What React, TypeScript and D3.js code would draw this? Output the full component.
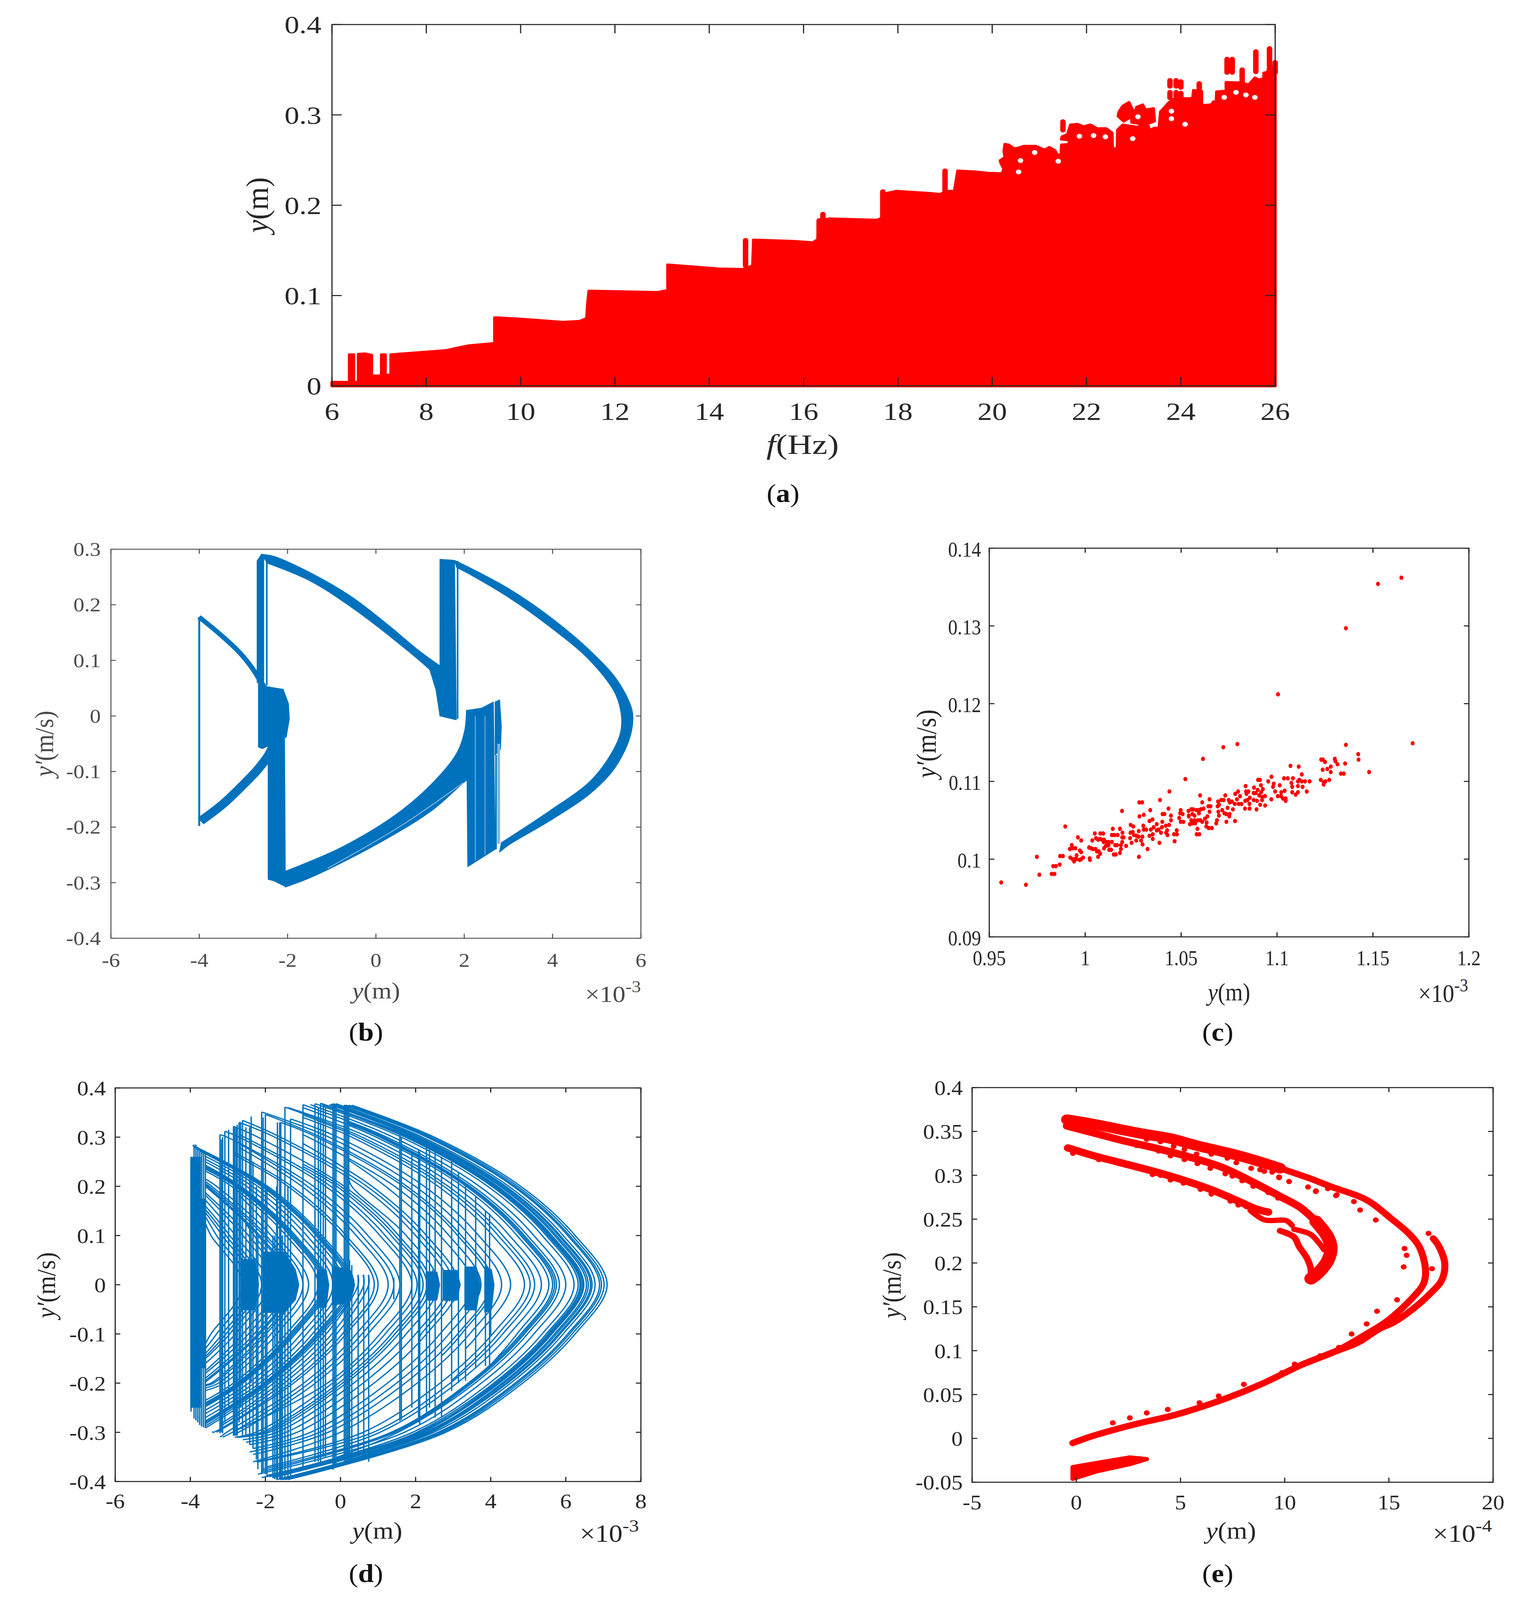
import * as d3 from "d3";

type Pt = [number, number];
type Arc = [Pt, (number | null)[], Pt];
type Lin = d3.ScaleLinear<number, number>;

const RED = "#ff0000";
const BLUE = "#0072bd";
const INK = "#262626";
const SERIF = "'Liberation Serif', serif";
const n = null;

// ---- panel (a): outer edge of the bifurcation cloud, f in Hz, y in m
const A_XTICKS = [6, 8, 10, 12, 14, 16, 18, 20, 22, 24, 26];
const A_YTICKS = [0, 0.1, 0.2, 0.3, 0.4];
const A_EDGE: Pt[] = [
  [6, 0.004], [6.37, 0.004], [6.37, 0.0345], [6.46, 0.0345], [6.46, 0.004], [6.56, 0.004], [6.56, 0.035], [6.7, 0.0355],
  [6.84, 0.034], [6.84, 0.011], [7.05, 0.011], [7.05, 0.0345], [7.13, 0.0345], [7.13, 0.012], [7.25, 0.012], [7.25, 0.0345],
  [8.4, 0.039], [8.9, 0.0445], [9.45, 0.047], [9.45, 0.0755], [10, 0.074], [10.9, 0.0705], [11.25, 0.0715], [11.4, 0.0745],
  [11.42, 0.09], [11.45, 0.105], [12.9, 0.1035], [13.12, 0.1055], [13.12, 0.134], [14.2, 0.1295], [14.72, 0.129], [14.92, 0.133],
  [14.94, 0.1615], [15.8, 0.16], [16.2, 0.1585], [16.3, 0.162], [16.33, 0.182], [16.55, 0.185], [17.55, 0.1835], [17.68, 0.186],
  [17.7, 0.2125], [17.97, 0.2155], [18.72, 0.213], [18.9, 0.212], [19, 0.215], [19.2, 0.216], [19.27, 0.238],
  [19.66, 0.2369], [19.91, 0.2355], [20.21, 0.2349], [20.25, 0.2404], [20.19, 0.2459], [20.17, 0.2494], [20.27, 0.2529], [20.25, 0.2598],
  [20.27, 0.2674], [20.35, 0.2667], [20.46, 0.2626], [20.56, 0.2633], [20.67, 0.2653], [20.92, 0.2653], [21.04, 0.2626], [21.12, 0.2612],
  [21.21, 0.264], [21.33, 0.2605], [21.38, 0.2556], [21.46, 0.2563], [21.47, 0.2667], [21.63, 0.2674], [21.63, 0.2723], [21.47, 0.273],
  [21.48, 0.2757], [21.6, 0.2785], [21.66, 0.2889], [21.81, 0.2896], [21.94, 0.2868], [22.08, 0.2889], [22.23, 0.2847], [22.42, 0.2847],
  [22.54, 0.2799], [22.55, 0.2626], [22.65, 0.2626], [22.66, 0.2833], [22.77, 0.2889], [22.94, 0.2875], [23.13, 0.2861], [23.13, 0.2903],
  [22.96, 0.2917], [22.96, 0.2986], [22.79, 0.293], [22.67, 0.2986], [22.69, 0.3034], [22.77, 0.3097], [22.9, 0.3138], [22.96, 0.3069],
  [23.04, 0.3014], [23.06, 0.3083], [23.19, 0.3111], [23.25, 0.3055], [23.42, 0.3069], [23.44, 0.293], [23.29, 0.2903], [23.34, 0.2827],
  [23.44, 0.2854], [23.54, 0.2854], [23.57, 0.3034], [23.67, 0.309], [23.75, 0.3138], [23.88, 0.318], [24.25, 0.318], [24.27, 0.327],
  [24.44, 0.3263], [24.44, 0.3104], [24.65, 0.3111], [24.69, 0.3145], [24.75, 0.3152], [24.76, 0.3256], [24.96, 0.3263], [24.96, 0.336],
  [25.3, 0.3353], [25.44, 0.3332], [25.57, 0.3409], [25.65, 0.3388], [25.76, 0.3402], [25.76, 0.3464], [25.84, 0.3471], [25.86, 0.3526],
  [26, 0.354], [26, 0],
];
// columns of points standing clear of the cloud: f, low y, high y
const A_STEMS: [number, number, number][] = [
  [14.77, 0.133, 0.161], [16.33, 0.165, 0.183], [16.41, 0.18, 0.19], [17.68, 0.183, 0.215], [19, 0.212, 0.238],
  [21.5, 0.2833, 0.2924], [23.77, 0.3318, 0.3381], [23.9, 0.3318, 0.3381], [24, 0.3305, 0.3367], [23.77, 0.319, 0.3249],
  [23.9, 0.319, 0.3249], [24, 0.318, 0.324], [24.39, 0.3291, 0.3346], [24.98, 0.3471, 0.3616], [25.09, 0.3471, 0.3616],
  [25.3, 0.3332, 0.3499], [25.59, 0.3478, 0.37], [25.88, 0.354, 0.3734], [26, 0.347, 0.358],
];
// pockets left empty inside the cloud
const A_GAPS: Pt[] = [
  [20.56, 0.2369], [20.6, 0.2494], [20.9, 0.2584], [21.4, 0.2487], [21.85, 0.2764], [22.15, 0.2771], [22.4, 0.2757], [22.98, 0.2737],
  [23.09, 0.2979], [23.8, 0.3041], [23.8, 0.2958], [24.09, 0.2896], [24.92, 0.3194], [25.17, 0.3249], [25.38, 0.3221], [25.57, 0.3194],
];

// ---- panel (b): phase portrait, x in 1e-3 m, y in m/s
const B_XTICKS = [-6, -4, -2, 0, 2, 4, 6];
const B_YTICKS = [-0.4, -0.3, -0.2, -0.1, 0, 0.1, 0.2, 0.3];
// curved sheets: one edge out, the other edge back
const B_BANDS: [Pt[], Pt[]][] = [
  [
    [[-2.59, 0.291], [-2.3, 0.287], [-1.49, 0.258], [-0.58, 0.216], [0.32, 0.161], [0.95, 0.119], [1.47, 0.089]],
    [[1.47, 0.059], [1.22, 0.083], [0.32, 0.143], [-0.58, 0.197], [-1.49, 0.243], [-2.46, 0.275]],
  ],
  [
    [[1.78, 0.28], [2.12, 0.267], [3.03, 0.228], [3.93, 0.179], [4.83, 0.119], [5.46, 0.065], [5.78, 0.016], [5.82, -0.005], [5.73, -0.044], [5.37, -0.098], [4.83, -0.141], [3.93, -0.189], [3.03, -0.231], [2.8, -0.245]],
    [[2.84, -0.228], [3.93, -0.171], [4.83, -0.119], [5.28, -0.074], [5.53, -0.032], [5.56, -0.002], [5.42, 0.04], [4.83, 0.101], [3.93, 0.161], [3.03, 0.212], [2.12, 0.255], [1.83, 0.267]],
  ],
  [
    [[-2.04, -0.279], [-0.77, -0.236], [0.58, -0.17], [1.49, -0.103], [1.85, -0.064], [2.01, -0.026], [2.05, 0.01]],
    [[2.4, -0.095], [2.03, -0.117], [1.27, -0.17], [0.13, -0.226], [-1.4, -0.288], [-2.05, -0.308]],
  ],
];
const B_SHAPES: Pt[][] = [
  // vertical sheets
  [[-2.69, 0.279], [-2.59, 0.291], [-2.54, 0.288], [-2.54, 0.06], [-2.69, 0.06]],
  [[1.45, 0.282], [1.78, 0.28], [1.82, -0.007], [1.45, 0]],
  [[1.22, 0.083], [1.36, 0.047], [1.45, 0], [1.5, 0.09]],
  [[-2.44, -0.056], [-2.07, -0.02], [-2.05, -0.307], [-2.3, -0.297], [-2.44, -0.294]],
  // inner blob
  [[-2.66, 0.077], [-2.48, 0.053], [-2.1, 0.048], [-1.98, 0.022], [-1.96, -0.005], [-2.03, -0.038], [-2.57, -0.059], [-2.66, -0.056]],
  [[2.05, 0.01], [2.39, 0.014], [2.66, 0.025], [2.7, -0.24], [2.08, -0.271]],
  [[2.7, 0.025], [2.8, 0.029], [2.84, -0.018], [2.82, -0.06], [2.7, -0.07]],
];
const B_LEFT_UPPER: Pt[] = [[-4.005, 0.178], [-3.56, 0.149], [-3.11, 0.116], [-2.8, 0.086], [-2.59, 0.059]];
const B_LEFT_LOWER: Pt[] = [[-3.97, -0.189], [-3.47, -0.159], [-3.02, -0.125], [-2.66, -0.095], [-2.39, -0.065], [-2.25, -0.032]];
const B_LEFT_WALL: Pt[] = [[-4.0, 0.178], [-4.0, -0.198]];
const B_THIN: Pt[][] = [[[-2.47, 0.285], [-2.47, 0.055]], [[1.85, 0.279], [1.85, -0.005]], [[2.72, -0.07], [2.72, -0.24]]];
const B_PALE: Pt[][] = [[[2.78, -0.05], [2.78, -0.23]], [[2.25, 0], [2.25, -0.26]], [[2.47, 0], [2.47, -0.25]]];
const B_STREAK: Pt[] = [[-1.09, -0.274], [0.58, -0.197], [1.98, -0.12]];

// ---- panel (c): Poincare section
const C_XTICKS = [0.95, 1, 1.05, 1.1, 1.15, 1.2];
const C_YTICKS = [0.09, 0.1, 0.11, 0.12, 0.13, 0.14];
const C_X = [
  0.9562, 0.9691, 0.9761, 0.9825, 0.984, 0.9748, 0.9867, 0.9833, 0.9847, 0.9869, 0.9884, 0.9896, 0.9922, 0.9934, 0.9945, 0.9955, 0.9942, 0.9955, 0.9979, 0.9989, 0.9972, 1.0023, 1.0025, 1.0067, 1.0078,
  0.992, 0.993, 0.9936, 0.9949, 0.9972, 0.9979, 0.9962, 0.9979, 1.0037, 1.002, 1.003, 1.004, 1.0054, 1.0061, 1.0071, 1.0098, 1.0056, 1.0067, 1.0078, 1.0088, 1.0098, 1.0096, 1.005, 1.0079, 1.0094,
  1.0111, 1.0122, 1.0108, 1.0122, 1.0139, 1.0156, 1.0166, 1.0125, 1.0135, 1.0149, 1.0159, 1.0181, 1.0213, 1.0186, 1.0186, 1.0193, 1.0193, 1.02, 1.0144, 1.0181, 1.0194, 1.0139, 1.0152, 1.0169, 1.0192,
  1.0234, 1.0242, 1.0266, 1.0291, 1.0299, 1.028, 1.0325, 1.0236, 1.0247, 1.0254, 1.0268, 1.0278, 1.0298, 1.0279, 1.0237, 1.0251, 1.0303, 1.0305, 1.0318, 1.0342, 1.0282, 1.0297, 1.0283, 1.0305, 1.0339,
  1.0335, 1.0351, 1.0357, 1.0373, 1.0335, 1.0352, 1.0352, 1.0387, 1.0373, 1.0383, 1.04, 1.0402, 1.039, 1.0439, 1.0522, 1.0434, 1.0403, 1.0413, 1.0447, 1.0447, 1.042, 1.0437, 1.0427, 1.0422, 1.0395,
  1.0429, 1.0463, 1.0478, 1.0477, 1.0466, 1.049, 1.0498, 1.0495, 1.0508, 1.0498, 1.0512, 1.0538, 1.0553, 1.0563, 1.058, 1.0593, 1.0603, 1.0617, 1.0593, 1.0559, 1.057, 1.054, 1.054, 1.0553, 1.057,
  1.0587, 1.06, 1.0546, 1.0559, 1.0573, 1.061, 1.0624, 1.0637, 1.0633, 1.0631, 1.0644, 1.066, 1.0585, 1.0581, 1.0595, 1.0599, 1.061, 1.0648, 1.0614, 1.072, 1.0793, 1.1005, 1.0642, 1.0653, 1.0648,
  1.0692, 1.0709, 1.0722, 1.0748, 1.0698, 1.069, 1.073, 1.0753, 1.0765, 1.078, 1.08, 1.0815, 1.0742, 1.077, 1.0694, 1.0714, 1.0726, 1.0736, 1.0753, 1.0751, 1.0697, 1.0687, 1.0683, 1.0736, 1.0781,
  1.0791, 1.0807, 1.0782, 1.0797, 1.0836, 1.0838, 1.0851, 1.0841, 1.0858, 1.0834, 1.0846, 1.0878, 1.0895, 1.0856, 1.0833, 1.0857, 1.0893, 1.0912, 1.0938, 1.097, 1.088, 1.0916, 1.0926, 1.0899, 1.0878,
  1.0889, 1.0917, 1.0907, 1.0922, 1.0937, 1.0922, 1.0901, 1.0911, 1.0954, 1.0971, 1.0983, 1.0979, 1.1014, 1.099, 1.1022, 1.104, 1.1004, 1.1021, 1.1031, 1.1045, 1.1045, 1.1036, 1.1056, 1.1083, 1.107,
  1.1113, 1.1129, 1.1116, 1.1075, 1.1079, 1.1109, 1.1129, 1.1146, 1.117, 1.1109, 1.1133, 1.1079, 1.1097, 1.1109, 1.1155, 1.123, 1.1239, 1.125, 1.1301, 1.1304, 1.1315, 1.1355, 1.1359, 1.1423, 1.1425,
  1.148, 1.128, 1.1262, 1.1238, 1.128, 1.1333, 1.1348, 1.1228, 1.1243, 1.1252, 1.1243, 1.1272, 1.1359, 1.1526, 1.1648, 1.1707,
];
const C_Y = [
  0.097, 0.0967, 0.098, 0.0981, 0.0981, 0.1003, 0.0993, 0.0991, 0.0991, 0.1004, 0.1004, 0.1042, 0.1002, 0.1, 0.1, 0.1, 0.0997, 0.1005, 0.1, 0.1002, 0.0999, 0.1001, 0.0999, 0.1003, 0.1007,
  0.1013, 0.1018, 0.1014, 0.1014, 0.1011, 0.1009, 0.1028, 0.1024, 0.1024, 0.1015, 0.1014, 0.1013, 0.1013, 0.101, 0.101, 0.1014, 0.1027, 0.1025, 0.1026, 0.1025, 0.1025, 0.1022, 0.1033, 0.1033, 0.1033,
  0.1022, 0.1022, 0.1017, 0.1018, 0.1022, 0.1018, 0.1018, 0.1012, 0.1012, 0.1006, 0.1006, 0.1008, 0.1017, 0.1018, 0.1013, 0.1022, 0.1028, 0.1028, 0.1039, 0.1039, 0.1034, 0.1031, 0.1031, 0.1031, 0.1062,
  0.1027, 0.1021, 0.1024, 0.1024, 0.1019, 0.1003, 0.1013, 0.1034, 0.1035, 0.1031, 0.103, 0.1029, 0.1029, 0.1036, 0.1044, 0.1042, 0.1043, 0.1038, 0.1038, 0.1038, 0.1073, 0.1073, 0.1055, 0.1057, 0.1063,
  0.1049, 0.1051, 0.1041, 0.1045, 0.103, 0.1032, 0.1026, 0.1021, 0.1037, 0.1038, 0.1041, 0.1048, 0.1076, 0.1087, 0.1103, 0.1065, 0.1058, 0.1058, 0.1056, 0.105, 0.1043, 0.1044, 0.1037, 0.1034, 0.1034,
  0.1031, 0.1032, 0.1032, 0.1037, 0.1023, 0.1053, 0.1063, 0.1059, 0.1058, 0.1048, 0.1048, 0.1062, 0.1064, 0.1064, 0.1063, 0.1063, 0.1064, 0.1065, 0.1059, 0.1058, 0.1056, 0.1056, 0.1055, 0.105, 0.105,
  0.105, 0.105, 0.1045, 0.1046, 0.1046, 0.1048, 0.1052, 0.1055, 0.1047, 0.1042, 0.104, 0.104, 0.1039, 0.1032, 0.1032, 0.1082, 0.1073, 0.1077, 0.1129, 0.1144, 0.1148, 0.1212, 0.1068, 0.1068, 0.1061,
  0.1074, 0.1076, 0.1076, 0.1076, 0.107, 0.1068, 0.1082, 0.1073, 0.1074, 0.1071, 0.1071, 0.1071, 0.1066, 0.1064, 0.1061, 0.1063, 0.1059, 0.1058, 0.1058, 0.1055, 0.1056, 0.105, 0.1046, 0.1048, 0.1049,
  0.1077, 0.1081, 0.1084, 0.1087, 0.1094, 0.1087, 0.1087, 0.1084, 0.1079, 0.1075, 0.1076, 0.1076, 0.1075, 0.1071, 0.1065, 0.1065, 0.1064, 0.107, 0.1069, 0.1077, 0.1092, 0.1095, 0.109, 0.1089, 0.1085,
  0.1085, 0.1086, 0.1082, 0.108, 0.1081, 0.1076, 0.1102, 0.1102, 0.11, 0.1106, 0.1097, 0.1093, 0.1095, 0.1087, 0.1086, 0.1088, 0.1081, 0.1081, 0.1078, 0.1078, 0.1075, 0.1104, 0.1104, 0.1104, 0.112,
  0.1119, 0.1109, 0.1102, 0.1098, 0.1093, 0.11, 0.11, 0.11, 0.11, 0.1094, 0.1093, 0.1086, 0.1083, 0.1086, 0.1087, 0.1128, 0.1128, 0.1125, 0.1129, 0.1126, 0.1122, 0.1123, 0.1147, 0.1135, 0.1128,
  0.1112, 0.1119, 0.1116, 0.1115, 0.1112, 0.111, 0.111, 0.1102, 0.1099, 0.11, 0.1096, 0.1102, 0.1297, 0.1354, 0.1362, 0.1149,
];

// ---- panel (d): chaotic orbit
const D_XTICKS = [-6, -4, -2, 0, 2, 4, 6, 8];
const D_YTICKS = [-0.4, -0.3, -0.2, -0.1, 0, 0.1, 0.2, 0.3, 0.4];
const D_LEVELS = [0.3, 0.2, 0.1, 0, -0.1, -0.2, -0.3];
// each flight: where it leaves the upper stop, x read at D_LEVELS, where it lands
const D_ARCS: Arc[] = [
  [[0.3, 0.365], [2.5, 4.8, 6.25, 7.1, 6.25, 4.85, 2.8], [-1.4, -0.396]],
  [[0.22, 0.365], [2.42, 4.72, 6.17, 7.02, 6.17, 4.77, 2.72], [-1.48, -0.396]],
  [[0.14, 0.365], [2.35, 4.65, 6.1, 6.95, 6.1, 4.7, 2.65], [-1.55, -0.396]],
  [[0.1, 0.365], [2.3, 4.6, 6.05, 6.9, 6.05, 4.65, 2.6], [-1.6, -0.396]],
  [[-0.12, 0.368], [2.18, 4.48, 5.93, 6.78, 5.93, 4.53, 2.48], [-1.7, -0.396]],
  [[-0.2, 0.368], [2.1, 4.4, 5.85, 6.7, 5.85, 4.45, 2.4], [0.24, -0.355]],
  [[-0.25, 0.367], [2.06, 4.36, 5.81, 6.66, 5.81, 4.41, 2.36], [-1.75, -0.39]],
  [[-0.3, 0.366], [2, 4.3, 5.75, 6.6, 5.75, 4.35, 2.3], [-1.78, -0.39]],
  [[0.2, 0.353], [1.95, 4.25, 5.7, 6.55, 5.7, 4.3, 2.25], [-1.8, -0.392]],
  [[0.15, 0.35], [1.88, 4.18, 5.63, 6.48, 5.63, 4.23, 2.18], [-0.2, -0.362]],
  [[0.1, 0.35], [1.85, 4.15, 5.6, 6.45, 5.6, 4.2, 2.15], [-1.9, -0.39]],
  [[-0.53, 0.369], [1.81, 4.11, 5.56, 6.41, 5.56, 4.16, 2.11], [-1.96, -0.39]],
  [[-0.5, 0.367], [1.78, 4.08, 5.53, 6.38, 5.53, 4.13, 2.08], [-1.98, -0.388]],
  [[-0.46, 0.365], [1.73, 4.03, 5.48, 6.33, 5.48, 4.08, 2.03], [-0.68, -0.37]],
  [[-0.68, 0.368], [1.62, 3.92, 5.37, 6.22, 5.37, 3.97, 1.92], [-2.1, -0.392]],
  [[-0.8, 0.366], [1.4, 3.7, 5.15, 6, 5.15, 3.75, 1.7], [-2.2, -0.385]],
  [[-1, 0.366], [1.23, 3.53, 4.98, 5.83, 4.98, 3.58, 1.53], [-1, -0.375]],
  [[0.18, 0.33], [1.15, 3.45, 4.9, 5.75, 4.9, 3.5, 1.45], [-2.12, -0.38]],
  [[0.2, 0.329], [1.1, 3.4, 4.85, 5.7, 4.85, 3.45, 1.4], [-2.1, -0.38]],
  [[0.22, 0.327], [1.05, 3.35, 4.8, 5.65, 4.8, 3.4, 1.35], [-2.06, -0.375]],
  [[-1, 0.36], [0.95, 3.25, 4.7, 5.55, 4.7, n, n], [3.97, -0.165]],
  [[-1.4, 0.36], [0.75, 3.05, 4.5, 5.35, 4.5, 3.1, 1.05], [-1.96, -0.37]],
  [[-1.48, 0.361], [0.57, 2.87, 4.32, 5.17, 4.32, 2.92, 0.87], [-2.2, -0.36]],
  [[-1, 0.345], [0.45, 2.75, 4.2, 5.05, 4.2, n, n], [2.96, -0.195]],
  [[-1, 0.34], [0.3, 2.6, 4.05, 4.9, 4.05, 2.65, 0.6], [-2.24, -0.36]],
  [[-1.33, 0.337], [-0.07, 2.23, 3.68, 4.53, 3.68, n, n], [3.33, -0.13]],
  [[-2.1, 0.351], [-0.31, 1.99, 3.44, 4.29, 3.44, 2.04, -0.01], [-2.33, -0.36]],
  [[-2, 0.346], [-0.53, 1.77, 3.22, 4.07, 3.22, n, n], [2.69, -0.145]],
  [[-1.59, 0.33], [-0.63, 1.67, 3.12, 3.97, 3.12, 1.72, -0.33], [-2.33, -0.345]],
  [[-1, 0.305], [-0.86, 1.44, 2.89, 3.74, 2.89, 1.49, -0.56], [-2.42, -0.34]],
  [[0.2, 0.254], [n, 1.2, 2.65, 3.5, 2.65, 1.25, -0.8], [-2.33, -0.333]],
  [[-1, 0.287], [n, 0.84, 2.29, 3.14, 2.29, 0.89, -1.16], [-2.42, -0.325]],
  [[-2.61, 0.334], [-1.6, 0.7, 2.15, 3, 2.15, n, n], [2.11, -0.105]],
  [[-2.7, 0.33], [-1.75, 0.55, 2, 2.85, 2, 0.6, -1.45], [-2.52, -0.32]],
  [[0.2, 0.221], [n, 0.3, 1.75, 2.6, 1.75, 0.35, -1.7], [-2.6, -0.315]],
  [[-2.85, 0.322], [-2.2, 0.1, 1.55, 2.4, 1.55, 0.15, -1.9], [-2.52, -0.305]],
  [[-1, 0.245], [n, 0, 1.45, 2.3, 1.45, 0.05, -2], [-2.7, -0.31]],
  [[-1, 0.24], [n, -0.1, 1.35, 2.2, 1.35, -0.05, -2.1], [-2.75, -0.31]],
  [[-2.7, 0.305], [-2.56, -0.26, 1.19, 2.04, 1.19, -0.21, -2.26], [-2.82, -0.31]],
  [[-3.08, 0.312], [-2.7, -0.4, 1.05, 1.9, 1.05, -0.35, n], [-2.75, -0.295]],
  [[-3.21, 0.305], [-3.02, -0.72, 0.73, 1.58, 0.73, -0.67, -2.72], [-2.82, -0.303]],
  [[-2.7, 0.287], [n, -0.88, 0.57, 1.42, 0.57, -0.83, -2.88], [-3.14, -0.31]],
  [[-2.7, 0.279], [n, -1.03, 0.42, 1.27, 0.42, -0.98, -3.03], [-3.21, -0.31]],
  [[-2.85, 0.27], [n, -1.3, 0.15, 1, 0.15, -1.25, -3.3], [-3.3, -0.3]],
  [[-2.85, 0.265], [n, -1.4, 0.05, 0.9, 0.05, -1.35, -3.4], [-3.4, -0.298]],
  [[0.74, 0.02], [n, n, n, 0.75, -0.1, -1.5, n], [-3.14, -0.285]],
  [[0.6, 0.02], [n, n, n, 0.62, -0.23, -1.63, n], [-3.21, -0.284]],
  [[0.46, 0.02], [n, n, n, 0.47, -0.38, -1.78, n], [-3.59, -0.291]],
  [[-3.94, 0.283], [n, -1.94, -0.49, 0.36, -0.49, -1.89, n], [-3.59, -0.287]],
  [[-3.9, 0.28], [n, -2, -0.55, 0.3, -0.55, -1.95, n], [-3.6, -0.283]],
  [[-3.85, 0.278], [n, -2.05, -0.6, 0.25, -0.6, -2, n], [-3.6, -0.28]],
  [[-3.75, 0.272], [n, -2.1, -0.65, 0.2, -0.65, -2.05, n], [-3.6, -0.277]],
  [[-3.6, 0.261], [n, -2.2, -0.75, 0.1, -0.75, -2.15, n], [-3.6, -0.27]],
  [[-3.6, 0.255], [n, -2.35, -0.9, -0.05, -0.9, -2.3, n], [-3.6, -0.262]],
  [[-3.6, 0.25], [n, -2.5, -1.05, -0.2, -1.05, -2.45, n], [-3.6, -0.255]],
  [[-3.6, 0.243], [n, -2.65, -1.2, -0.35, -1.2, -2.6, n], [-3.6, -0.248]],
  [[-3.6, 0.24], [n, -2.7, -1.25, -0.4, -1.25, -2.65, n], [-3.6, -0.245]],
  [[-3.6, 0.238], [n, -2.75, -1.3, -0.45, -1.3, -2.7, n], [-3.6, -0.243]],
  [[-3.6, 0.235], [n, -2.8, -1.35, -0.5, -1.35, -2.75, n], [-3.6, -0.24]],
  [[-3.6, 0.231], [n, -2.9, -1.45, -0.6, -1.45, -2.85, n], [-3.6, -0.235]],
  [[-2.7, 0.182], [n, n, -1.7, -0.85, -1.7, -3.1, n], [-3.6, -0.215]],
  [[-3.6, 0.215], [n, -3.3, -1.85, -1, -1.85, -3.25, n], [-3.6, -0.21]],
  [[-3.6, 0.21], [n, -3.43, -1.98, -1.13, -1.98, -3.38, n], [-3.6, -0.205]],
  [[-3.6, 0.206], [n, -3.5, -2.05, -1.2, -2.05, -3.45, n], [-3.6, -0.203]],
  [[-3.6, 0.203], [n, n, -2.15, -1.3, -2.15, n, n], [-3.6, -0.198]],
  [[-3.6, 0.2], [n, n, -2.2, -1.35, -2.2, n, n], [-3.6, -0.195]],
  [[-2.7, 0.144], [n, n, -2.3, -1.45, -2.3, n, n], [-3.6, -0.19]],
  [[-3.6, 0.187], [n, n, -2.45, -1.6, -2.45, n, n], [-3.6, -0.18]],
  [[-3.6, 0.182], [n, n, -2.6, -1.75, -2.6, n, n], [-3.6, -0.175]],
  [[-3.6, 0.172], [n, n, -2.8, -1.95, -2.8, n, n], [-3.6, -0.16]],
  [[-3.6, 0.16], [n, n, -2.95, -2.1, -2.95, n, n], [-3.6, -0.15]],
  [[-3.6, 0.153], [n, n, -3.05, -2.2, -3.05, n, n], [-3.6, -0.146]],
  [[-3.6, 0.147], [n, n, -3.15, -2.3, -3.15, n, n], [-3.6, -0.14]],
  [[-3.6, 0.139], [n, n, -3.3, -2.45, -3.3, n, n], [-3.6, -0.13]],
  [[-3.6, 0.125], [n, n, -3.45, -2.6, -3.45, n, n], [-3.6, -0.12]],
];
// velocity jumps at the stop: x, low y, high y
const D_JUMPS: [number, number, number][] = [
  [-3.98, -0.258, 0.25], [-3.9, -0.272, 0.285], [-3.85, -0.276, 0.285], [-3.8, -0.28, 0.28], [-3.75, -0.285, 0.275], [-3.7, -0.288, 0.27], [-3.65, -0.29, 0.27], [-3.6, -0.291, 0.27],
  [-3.21, -0.302, 0.305], [-3.17, -0.3, 0.295], [-3.14, -0.302, 0.3], [-3.08, -0.28, 0.312], [-2.98, -0.25, 0.315], [-2.85, -0.307, 0.322], [-2.82, -0.307, 0.32], [-2.78, -0.307, 0.32],
  [-2.75, -0.307, 0.325], [-2.7, -0.28, 0.33], [-2.66, -0.25, 0.33], [-2.61, -0.31, 0.334], [-2.52, -0.31, 0.32], [-2.42, -0.325, 0.32], [-2.38, -0.2, 0.342], [-2.33, -0.333, 0.25],
  [-2.24, -0.355, 0.2], [-2.2, -0.375, 0.1], [-2.1, -0.385, 0.351], [-2.06, -0.38, 0.34], [-2, -0.385, 0.346], [-1.96, -0.386, 0.2], [-1.8, -0.393, 0.1], [-1.75, -0.395, 0.1],
  [-1.7, -0.396, 0.2], [-1.68, -0.396, 0.33], [-1.62, -0.396, 0.33], [-1.59, -0.396, 0.33], [-1.55, -0.396, 0.1], [-1.48, -0.396, 0.361], [-1.4, -0.396, 0.2], [-1.33, -0.39, 0.337],
  [-1, -0.375, 0.366], [-0.68, -0.36, 0.368], [-0.59, -0.36, 0.36], [-0.53, -0.36, 0.369], [-0.46, -0.35, 0.365], [-0.4, -0.35, 0.36], [-0.2, -0.376, 0.368], [-0.16, -0.37, 0.368],
  [-0.12, -0.37, 0.368], [0.1, -0.36, 0.365], [0.14, -0.36, 0.365], [0.18, -0.36, 0.365], [0.22, -0.357, 0.365], [0.24, -0.357, 0.05], [0.75, -0.36, 0.02], [0.62, -0.35, 0.02],
  [0.47, -0.34, 0.02], [0.3, -0.36, 0.04], [1.42, -0.03, 0.014], [1.58, -0.277, 0.31], [1.62, -0.275, 0.3], [1.9, -0.25, 0.27], [2.08, -0.28, 0.275], [2.11, -0.284, 0.27],
  [2.29, -0.26, 0.29], [2.37, -0.25, 0.28], [2.52, -0.27, 0.27], [2.69, -0.27, 0.26], [2.96, -0.216, 0.255], [3.14, -0.2, 0.23], [3.33, -0.195, 0.2], [3.6, -0.17, 0.18],
  [3.86, -0.165, 0.15], [3.97, -0.165, 0.145], [4, -0.104, 0.03], [3.1, -0.032, 0.03], [3.02, -0.034, 0.03], [2.9, -0.034, 0.03], [2.8, -0.034, 0.03], [2.45, -0.034, 0.03],
];
const D_WALLS: Pt[][] = [
  [[-4, 0.26], [-3.72, 0.26], [-3.72, -0.25], [-4, -0.25]],
  [[-3.72, 0.175], [-3.58, 0.175], [-3.58, -0.17], [-3.72, -0.17]],
];
// dense turning points around y' = 0
const D_BLOBS: Pt[][] = [
  [[-2.62, 0.05], [-2.3, 0.05], [-2.2, 0], [-2.3, -0.05], [-2.62, -0.05]],
  [[-2.05, 0.065], [-1.5, 0.065], [-1.22, 0.03], [-1.13, 0], [-1.22, -0.03], [-1.5, -0.055], [-2.05, -0.055]],
  [[-0.6, 0.03], [-0.4, 0.03], [-0.33, 0], [-0.4, -0.045], [-0.6, -0.045]],
  [[-0.2, 0.036], [0.2, 0.03], [0.36, 0], [0.2, -0.035], [-0.2, -0.04]],
  [[2.3, 0.025], [2.55, 0.025], [2.62, 0], [2.55, -0.03], [2.3, -0.03]],
  [[2.75, 0.028], [3.08, 0.028], [3.17, 0], [3.08, -0.03], [2.75, -0.03]],
  [[3.33, 0.035], [3.6, 0.035], [3.7, 0], [3.6, -0.05], [3.33, -0.05]],
  [[3.86, 0.035], [4, 0.03], [4.07, 0], [4, -0.05], [3.86, -0.055]],
];

// ---- panel (e): Poincare section bands, x in 1e-4 m, y in m/s
const E_XTICKS = [-5, 0, 5, 10, 15, 20];
const E_YTICKS = [-0.05, 0, 0.05, 0.1, 0.15, 0.2, 0.25, 0.3, 0.35, 0.4];
const E_BAND_A1: Pt[] = [[-0.45, 0.3634], [0.7, 0.3589], [1.85, 0.3535], [3.18, 0.3473], [4.52, 0.3419], [5.77, 0.3339], [7.2, 0.3259], [8.35, 0.3187], [9.78, 0.308]];
const E_BAND_A2: Pt[] = [[9.78, 0.308], [11.21, 0.2964], [12.17, 0.2875], [13.92, 0.272], [15.14, 0.25], [15.95, 0.2337], [16.46, 0.2184], [16.76, 0.1916], [16.66, 0.1763], [16.16, 0.161], [14.94, 0.1343], [13.92, 0.119], [12.5, 0.0999], [10.88, 0.0846], [8.85, 0.0616], [6.83, 0.0425], [4.8, 0.0272], [2.77, 0.0158], [0.74, 0.0024], [-0.17, -0.0053]];
const E_BAND_B: Pt[] = [[-0.45, 0.3562], [0.7, 0.3491], [2.13, 0.3402], [3.76, 0.3312], [5.48, 0.3205], [6.91, 0.3098], [8.35, 0.2938], [9.78, 0.2759], [10.74, 0.2634], [11.5, 0.2474]];
const E_BAND_B_TIP: Pt[] = [[11.5, 0.2474], [12.07, 0.2295], [12.22, 0.217], [12.07, 0.2028], [11.6, 0.1885], [11.26, 0.1822]];
const E_BAND_C: Pt[] = [[-0.4, 0.3312], [0.7, 0.3232], [2.13, 0.3143], [3.57, 0.3054], [5, 0.2955], [6.43, 0.284], [7.68, 0.2715], [8.63, 0.2616], [9.21, 0.258]];
const E_BAND_C2: Pt[] = [[8.35, 0.26], [9.02, 0.2492], [10.07, 0.2483], [10.35, 0.2429]];
const E_BAND_C3: Pt[] = [[9.78, 0.2367], [10.45, 0.2295], [10.69, 0.2188], [11.07, 0.2054], [11.26, 0.192], [11.21, 0.1831]];
const E_BAND_C4: Pt[] = [[10.45, 0.2384], [11.21, 0.2331], [11.6, 0.2242], [11.88, 0.2152]];
const E_BAND_D: Pt[] = [[17.13, 0.228], [17.41, 0.2184], [17.68, 0.1993], [17.53, 0.1802], [16.97, 0.1649], [16.16, 0.1477], [15.24, 0.1324], [14.53, 0.1247], [13.52, 0.1094], [12.3, 0.098], [10.88, 0.0846]];
const E_LOWER_PATCH: Pt[] = [[-0.17, -0.0328], [0.94, -0.0282], [2.57, -0.0217], [3.38, -0.0236], [2.57, -0.0293], [0.94, -0.0378], [-0.17, -0.0462]];
const E_STRAYS: Pt[] = [
  [9.73, 0.298], [11.49, 0.2815], [12.5, 0.2777], [13.32, 0.27], [13.62, 0.2604], [14.37, 0.249], [15.75, 0.2165], [15.85, 0.2088], [15.71, 0.1955],
  [15.39, 0.158], [14.43, 0.145], [13.93, 0.1305], [13.21, 0.119], [12.6, 0.1037], [4.39, 0.033], [5.91, 0.0406], [16.9, 0.2337], [17.07, 0.1935],
  [3.38, 0.3411], [4.04, 0.3384], [4.67, 0.333], [5.19, 0.3295], [5.77, 0.3241], [6.48, 0.3241], [7.25, 0.3196], [7.68, 0.3143], [8.39, 0.308], [8.82, 0.3063], [9.02, 0.3045], [9.4, 0.3036],
  [9.73, 0.2973], [10.21, 0.2929], [11.12, 0.2866], [11.5, 0.2822], [12.07, 0.2848], [12.46, 0.2768], [0.7, 0.3482], [1.56, 0.3446], [2.37, 0.3384], [2.9, 0.3339],
  [3.95, 0.3277], [4.52, 0.3223], [5.19, 0.3179], [5.81, 0.3134], [6.43, 0.308], [7.15, 0.3018], [7.49, 0.2991], [7.96, 0.2938], [8.49, 0.2875], [9.21, 0.2804], [9.68, 0.2741],
  [-0.16, 0.325], [1.08, 0.3179], [2.04, 0.3134], [3.04, 0.308], [3.66, 0.3009], [4.04, 0.3], [4.52, 0.2947], [5.14, 0.2911], [5.96, 0.284], [6.48, 0.2786], [7.39, 0.2706], [7.77, 0.2661], [8.16, 0.2643],
  [6.83, 0.0483], [8.04, 0.0616], [9.87, 0.075], [10.48, 0.0846], [11.7, 0.0941], [1.75, 0.0177], [2.57, 0.0234], [3.38, 0.0291],
];

type TextProps = {
  x: number;
  y: number;
  size: number;
  sx?: number;
  rot?: number;
  anchor?: "start" | "middle" | "end";
  fill?: string;
  children: React.ReactNode;
};

const Label = ({ x, y, size, sx = 1, rot = 0, anchor = "middle", fill = INK, children }: TextProps) => (
  <text
    transform={`translate(${x},${y}) rotate(${rot}) scale(${sx},1)`}
    fontFamily={SERIF}
    fontSize={size}
    textAnchor={anchor}
    fill={fill}
  >
    {children}
  </text>
);

type FrameProps = {
  x: Lin;
  y: Lin;
  xTicks: number[];
  yTicks: number[];
  size: number;
  sx?: number;
  tick: number;
  box?: number;
  ink?: string;
  xLabelBase: number;
  yLabelRight: number;
  yLabelDrop: number;
};

// box with inward ticks on all four sides, as MATLAB draws it
const Frame = ({ x, y, xTicks, yTicks, size, sx = 1, tick, box = 3, ink = INK, xLabelBase, yLabelRight, yLabelDrop }: FrameProps) => {
  const [x0, x1] = x.range();
  const [y0, y1] = y.range();
  return (
    <g>
      <rect x={x0} y={y1} width={x1 - x0} height={y0 - y1} fill="none" stroke={ink} strokeWidth={box} />
      {xTicks.map((v) => (
        <g key={v}>
          <line x1={x(v)} x2={x(v)} y1={y0} y2={y0 - tick} stroke={ink} strokeWidth={box} />
          <line x1={x(v)} x2={x(v)} y1={y1} y2={y1 + tick} stroke={ink} strokeWidth={box} />
          <Label x={x(v)} y={xLabelBase} size={size} sx={sx} fill={ink}>{v}</Label>
        </g>
      ))}
      {yTicks.map((v) => (
        <g key={v}>
          <line x1={x0} x2={x0 + tick} y1={y(v)} y2={y(v)} stroke={ink} strokeWidth={box} />
          <line x1={x1} x2={x1 - tick} y1={y(v)} y2={y(v)} stroke={ink} strokeWidth={box} />
          <Label x={yLabelRight} y={y(v) + yLabelDrop} size={size} sx={sx} anchor="end" fill={ink}>{v}</Label>
        </g>
      ))}
    </g>
  );
};

const Exponent = ({ right, base, power, size, sx = 1, fill = INK }: { right: number; base: number; power: string; size: number; sx?: number; fill?: string }) => (
  <Label x={right} y={base} size={size} sx={sx} anchor="end" fill={fill}>
    ×10<tspan dy={-size * 0.42} fontSize={size * 0.72}>{power}</tspan>
  </Label>
);

const Caption = ({ x, y, letter }: { x: number; y: number; letter: string }) => (
  <Label x={x} y={y} size={72} fill="#111">
    (<tspan fontWeight="bold">{letter}</tspan>)
  </Label>
);

const YPrimeLabel = ({ x, y, size, sx = 1, fill = INK }: { x: number; y: number; size: number; sx?: number; fill?: string }) => (
  <Label x={x} y={y} size={size} sx={sx} rot={-90} fill={fill}>
    <tspan fontStyle="italic">y′</tspan>(m/s)
  </Label>
);

const XYLabel = ({ x, y, size, sx = 1, fill = INK }: { x: number; y: number; size: number; sx?: number; fill?: string }) => (
  <Label x={x} y={y} size={size} sx={sx} fill={fill}>
    <tspan fontStyle="italic">y</tspan>(m)
  </Label>
);

const PanelA = () => {
  const x = d3.scaleLinear().domain([6, 26]).range([850, 3265]);
  const y = d3.scaleLinear().domain([0, 0.4]).range([1101, 70]);
  const area = d3.line<Pt>().x((d) => x(d[0])).y((d) => y(d[1]));
  return (
    <g>
      <path d={area([[6, 0], ...A_EDGE]) + "Z"} fill={RED} stroke={RED} strokeWidth={8} strokeLinejoin="round" />
      {A_STEMS.map(([f, lo, hi], i) => (
        <line key={i} x1={x(f)} x2={x(f)} y1={y(lo)} y2={y(hi)} stroke={RED} strokeWidth={14} strokeLinecap="round" />
      ))}
      {A_GAPS.map(([f, v], i) => (
        <circle key={i} cx={x(f)} cy={y(v)} r={7} fill="#fff" />
      ))}
      <Frame x={x} y={y} xTicks={A_XTICKS} yTicks={A_YTICKS} size={70} sx={1.08} tick={25} xLabelBase={1198} yLabelRight={823} yLabelDrop={25} />
      <Label x={2055} y={1295} size={80} sx={1.1}>
        <tspan fontStyle="italic">f</tspan>(Hz)
      </Label>
      <Label x={686} y={585} size={80} sx={1.05} rot={-90}>
        <tspan fontStyle="italic">y</tspan>(m)
      </Label>
      <Caption x={2005} y={1432} letter="a" />
    </g>
  );
};

const PanelB = () => {
  const x = d3.scaleLinear().domain([-6, 6]).range([284, 1641]);
  const y = d3.scaleLinear().domain([-0.4, 0.3]).range([2677, 1567]);
  const arc = d3.line<Pt>().x((d) => x(d[0])).y((d) => y(d[1])).curve(d3.curveCatmullRom.alpha(0.5));
  const straight = d3.line<Pt>().x((d) => x(d[0])).y((d) => y(d[1]));
  const ink = "#4a4a4a";
  return (
    <g>
      {B_BANDS.map(([out, back], i) => (
        <path key={i} d={`${arc(out)}${arc(back)?.replace("M", "L")}Z`} fill={BLUE} stroke={BLUE} strokeWidth={2} strokeLinejoin="round" />
      ))}
      {B_SHAPES.map((s, i) => (
        <path key={i} d={straight(s) + "Z"} fill={BLUE} stroke={BLUE} strokeWidth={2} strokeLinejoin="round" />
      ))}
      <path d={arc(B_LEFT_UPPER) ?? ""} fill="none" stroke={BLUE} strokeWidth={13} />
      <path d={arc(B_LEFT_LOWER) ?? ""} fill="none" stroke={BLUE} strokeWidth={24} />
      <path d={straight(B_LEFT_WALL) ?? ""} fill="none" stroke={BLUE} strokeWidth={5} />
      {B_THIN.map((s, i) => (
        <path key={i} d={straight(s) ?? ""} fill="none" stroke={BLUE} strokeWidth={4} />
      ))}
      {B_PALE.map((s, i) => (
        <path key={i} d={straight(s) ?? ""} fill="none" stroke="#7fb7de" strokeWidth={i === 0 ? 7 : 2} />
      ))}
      <path d={arc(B_STREAK) ?? ""} fill="none" stroke="#a9cde8" strokeWidth={2} />
      <Frame x={x} y={y} xTicks={B_XTICKS} yTicks={B_YTICKS} size={56} tick={13} box={2.5} ink={ink} xLabelBase={2758} yLabelRight={258} yLabelDrop={19} />
      <XYLabel x={963} y={2849} size={65} fill={ink} />
      <YPrimeLabel x={136} y={2122} size={68} fill={ink} />
      <Exponent right={1641} base={2859} power="-3" size={66} fill={ink} />
      <Caption x={937} y={2969} letter="b" />
    </g>
  );
};

const PanelC = () => {
  const x = d3.scaleLinear().domain([0.95, 1.2]).range([2533, 3761]);
  const y = d3.scaleLinear().domain([0.09, 0.14]).range([2673, 1564]);
  return (
    <g>
      {C_X.map((v, i) => (
        <ellipse key={i} cx={x(v)} cy={y(C_Y[i])} rx={5} ry={6.3} fill={RED} />
      ))}
      <Frame x={x} y={y} xTicks={C_XTICKS} yTicks={C_YTICKS} size={62} sx={0.78} tick={13} xLabelBase={2754} yLabelRight={2512} yLabelDrop={24} />
      <XYLabel x={3147} y={2854} size={70} sx={0.82} />
      <YPrimeLabel x={2396} y={2122} size={72} sx={0.98} />
      <Exponent right={3759} base={2859} power="-3" size={72} sx={0.82} />
      <Caption x={3118} y={2969} letter="c" />
    </g>
  );
};

const PanelD = () => {
  const x = d3.scaleLinear().domain([-6, 8]).range([295, 1641]);
  const y = d3.scaleLinear().domain([-0.4, 0.4]).range([4227, 3104]);
  const arc = d3.line<Pt>().x((d) => x(d[0])).y((d) => y(d[1])).curve(d3.curveCatmullRom.alpha(0.5));
  const outline = d3.line<Pt>().x((d) => x(d[0])).y((d) => y(d[1]));
  const flights = D_ARCS.map(([top, xs, bot]) => {
    const mid: Pt[] = [];
    xs.forEach((v, i) => {
      if (v !== null) mid.push([v, D_LEVELS[i]]);
    });
    return [top, ...mid, bot] as Pt[];
  });
  return (
    <g>
      {D_WALLS.map((s, i) => (
        <path key={i} d={outline(s) + "Z"} fill={BLUE} />
      ))}
      {D_BLOBS.map((s, i) => (
        <path key={i} d={outline(s) + "Z"} fill={BLUE} stroke={BLUE} strokeWidth={6} strokeLinejoin="round" />
      ))}
      {D_JUMPS.map(([v, lo, hi], i) => (
        <line key={i} x1={x(v)} x2={x(v)} y1={y(lo)} y2={y(hi)} stroke={BLUE} strokeWidth={3.5} />
      ))}
      {flights.map((p, i) => (
        <path key={i} d={arc(p) ?? ""} fill="none" stroke={BLUE} strokeWidth={3.5} />
      ))}
      <Frame x={x} y={y} xTicks={D_XTICKS} yTicks={D_YTICKS} size={59} tick={13} xLabelBase={4303} yLabelRight={271} yLabelDrop={21} />
      <XYLabel x={966} y={4390} size={68} />
      <YPrimeLabel x={141} y={3667} size={68} />
      <Exponent right={1636} base={4399} power="-3" size={70} />
      <Caption x={937} y={4514} letter="d" />
    </g>
  );
};

const PanelE = () => {
  const x = d3.scaleLinear().domain([-5, 20]).range([2489, 3823]);
  const y = d3.scaleLinear().domain([-0.05, 0.4]).range([4229, 3103]);
  const arc = d3.line<Pt>().x((d) => x(d[0])).y((d) => y(d[1])).curve(d3.curveCatmullRom.alpha(0.5));
  const outline = d3.line<Pt>().x((d) => x(d[0])).y((d) => y(d[1]));
  const bands: [Pt[], number][] = [
    [E_BAND_A1, 30],
    [E_BAND_A2, 18],
    [E_BAND_B, 21],
    [E_BAND_B_TIP, 34],
    [E_BAND_C, 21],
    [E_BAND_C2, 15],
    [E_BAND_C3, 17],
    [E_BAND_C4, 15],
    [E_BAND_D, 18],
  ];
  return (
    <g>
      {bands.map(([p, w], i) => (
        <path key={i} d={arc(p) ?? ""} fill="none" stroke={RED} strokeWidth={w} strokeLinecap="round" strokeLinejoin="round" />
      ))}
      <path d={outline(E_LOWER_PATCH) + "Z"} fill={RED} stroke={RED} strokeWidth={12} strokeLinejoin="round" />
      {E_STRAYS.map(([a, b], i) => (
        <circle key={i} cx={x(a)} cy={y(b)} r={7.5} fill={RED} />
      ))}
      <Frame x={x} y={y} xTicks={E_XTICKS} yTicks={E_YTICKS} size={58} tick={13} xLabelBase={4306} yLabelRight={2465} yLabelDrop={21} />
      <XYLabel x={3152} y={4390} size={68} />
      <YPrimeLabel x={2306} y={3667} size={68} />
      <Exponent right={3820} base={4399} power="-4" size={70} />
      <Caption x={3118} y={4514} letter="e" />
    </g>
  );
};

// the browser window stops at 4096px high, so the whole figure is fitted into it
const WINDOW_W = 3897;
const WINDOW_H = 4096;

export default function App() {
  return (
    <>
      <style>{"html,body{margin:0;padding:0;background:#fff;overflow:hidden}"}</style>
      <svg
        width={WINDOW_W}
        height={WINDOW_H}
        viewBox="0 0 3897 4565"
        preserveAspectRatio="none"
        style={{ display: "block" }}
      >
        <PanelA />
        <PanelB />
        <PanelC />
        <PanelD />
        <PanelE />
      </svg>
    </>
  );
}
